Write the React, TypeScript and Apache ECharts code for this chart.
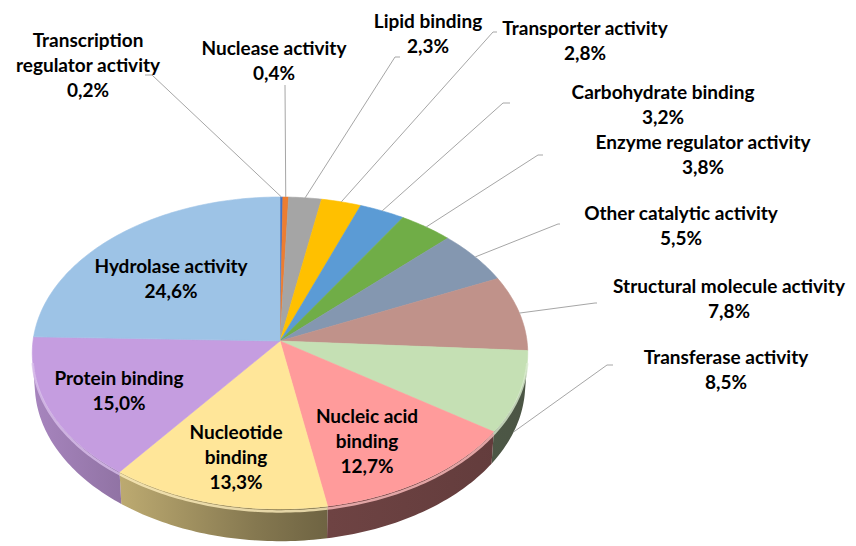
import React, { useEffect, useRef } from "react";
import * as echarts from "echarts";

// ---- data ----
const categories = [
  "Transcription regulator activity",
  "Nuclease activity",
  "Lipid binding",
  "Transporter activity",
  "Carbohydrate binding",
  "Enzyme regulator activity",
  "Other catalytic activity",
  "Structural molecule activity",
  "Transferase activity",
  "Nucleic acid binding",
  "Nucleotide binding",
  "Protein binding",
  "Hydrolase activity",
];
const values = [0.2, 0.4, 2.3, 2.8, 3.2, 3.8, 5.5, 7.8, 8.5, 12.7, 13.3, 15.0, 24.6];
const labelNames = [
  "Transcription\nregulator activity",
  "Nuclease activity",
  "Lipid binding",
  "Transporter activity",
  "Carbohydrate binding",
  "Enzyme regulator activity",
  "Other catalytic activity",
  "Structural molecule activity",
  "Transferase activity",
  "Nucleic acid\nbinding",
  "Nucleotide\nbinding",
  "Protein binding",
  "Hydrolase activity",
];

// ---- style / layout ----
const colors = [
  "#4472C4", "#ED7D31", "#A5A5A5", "#FFC000", "#5B9BD5", "#70AD47",
  "#8497B0", "#C0928A", "#C5E0B4", "#FF9B9B", "#FFE699", "#C59DE0", "#9DC3E6",
];
// label block centre [x, y]
const labelPos = [
  [88, 64], [274, 60], [428, 33], [585, 40], [663, 104], [703, 154],
  [681, 225], [729, 298], [726, 369], [367, 440], [236, 456], [119, 390], [171, 278],
];
// leader: null = inside label; else [elbowX, elbowY, endX, startAngleOffsetDeg, startH]
const leaders: (number[] | null)[] = [
  [152, 75, 145, 0, 0],
  [285, 85, 285, 0, 0],
  [395, 57, 400, 0, 0],
  [493, 32, 497, 0, 0],
  [503, 103, 510, 0, 0],
  [538, 155, 543, 0, 0],
  [558, 224, 560, 0, 0],
  [595, 303, 597, 0, 0],
  [607, 365, 613, 3, 1],
  null, null, null, null,
];

const CX = 280, CY = 341, DIST = 10.1, TILT = (38.9 * Math.PI) / 180, RX = 247, THICK = 0.165;
const cT = Math.cos(TILT), sT = Math.sin(TILT);
const FOC = RX * DIST;

function project(theta: number, r: number, h: number): number[] {
  const x = r * Math.sin(theta);
  const d = r * Math.cos(theta);
  const depth = DIST + d * cT - h * sT;
  return [CX + (FOC * x) / depth, CY - (FOC * (d * sT + h * cT)) / depth];
}

function shade(hex: string, f: number): string {
  const n = parseInt(hex.slice(1), 16);
  const r = Math.round(((n >> 16) & 255) * f);
  const g = Math.round(((n >> 8) & 255) * f);
  const b = Math.round((n & 255) * f);
  return `rgb(${r},${g},${b})`;
}
function tint(hex: string, f: number): string {
  const n = parseInt(hex.slice(1), 16);
  const m = (c: number) => Math.round(c + (255 - c) * f);
  return `rgb(${m((n >> 16) & 255)},${m((n >> 8) & 255)},${m(n & 255)})`;
}

function arc(a: number, b: number, r: number, h: number): number[][] {
  const pts: number[][] = [];
  const steps = Math.max(2, Math.ceil(((b - a) * 180) / Math.PI));
  for (let k = 0; k <= steps; k++) pts.push(project(a + ((b - a) * k) / steps, r, h));
  return pts;
}

export default function App() {
  const ref = useRef<HTMLDivElement>(null);
  useEffect(() => {
    if (!ref.current) return;
    const chart = echarts.init(ref.current, undefined, { renderer: "svg" });
    const total = values.reduce((a, b) => a + b, 0);
    const cum: number[] = [];
    let acc = 0;
    values.forEach((v) => { cum.push(acc); acc += v; });
    const visA = Math.acos(-1 / (DIST * cT));
    const visB = 2 * Math.PI - visA;

    const fmt = (v: number) => v.toFixed(1).replace(".", ",") + "%";

    chart.setOption({
      animation: false,
      backgroundColor: "#ffffff",
      series: [
        {
          type: "custom",
          coordinateSystem: "none",
          data: values.map((v, i) => ({ name: categories[i], value: [v] })),
          renderItem: (params: any, api: any) => {
            const i = params.dataIndex;
            const v = api.value(0);
            const a = (cum[i] / total) * 2 * Math.PI;
            const b = a + (v / total) * 2 * Math.PI;
            const col = colors[i];
            const children: any[] = [];
            // side
            const sa = Math.max(a, visA), sb = Math.min(b, visB);
            if (sb > sa) {
              const top = arc(sa, sb, 1, 0);
              const bot = arc(sa, sb, 1, -THICK).reverse();
              children.push({
                type: "polygon",
                z2: 1,
                shape: { points: top.concat(bot) },
                style: {
                  fill: new echarts.graphic.LinearGradient(33, 0, 527, 0, [
                    { offset: 0, color: shade(col, 0.85) },
                    { offset: 0.2, color: shade(col, 0.72) },
                    { offset: 0.45, color: shade(col, 0.52) },
                    { offset: 0.6, color: shade(col, 0.43) },
                    { offset: 1, color: shade(col, 0.38) },
                  ], true),
                  stroke: null,
                },
              });
              children.push({
                type: "polyline",
                z2: 3,
                shape: { points: arc(sa, sb, 1, -0.012) },
                style: { stroke: tint(col, 0.35), lineWidth: 2.5, fill: null, opacity: 0.8 },
              });
            }
            // top face
            children.push({
              type: "polygon",
              z2: 2,
              shape: { points: [project(0, 0, 0)].concat(arc(a, b, 1, 0)) },
              style: { fill: col, stroke: col, lineWidth: 0.6 },
            });
            // leader
            const L = leaders[i];
            if (L) {
              const m = (a + b) / 2 + (L[3] * Math.PI) / 180;
              const st = project(m, 1, -THICK * L[4]);
              children.push({
                type: "polyline",
                z2: 4,
                shape: { points: [st, [L[0], L[1]], [L[2], L[1]]] },
                style: { stroke: "#A6A6A6", lineWidth: 1, fill: null },
              });
            }
            children.push({
              type: "text",
              z2: 5,
              x: labelPos[i][0],
              y: labelPos[i][1],
              style: {
                text: labelNames[i] + "\n" + fmt(v),
                fill: "#000000",
                fontFamily: "Lato",
                fontWeight: "bold",
                fontSize: 19,
                lineHeight: 25,
                align: "center",
                verticalAlign: "middle",
              },
            });
            return { type: "group", children };
          },
        },
      ],
    });
    return () => chart.dispose();
  }, []);
  return (
    <div
      ref={ref}
      style={{ position: "fixed", left: 0, top: 0, width: 856, height: 546, background: "#fff" }}
    />
  );
}
